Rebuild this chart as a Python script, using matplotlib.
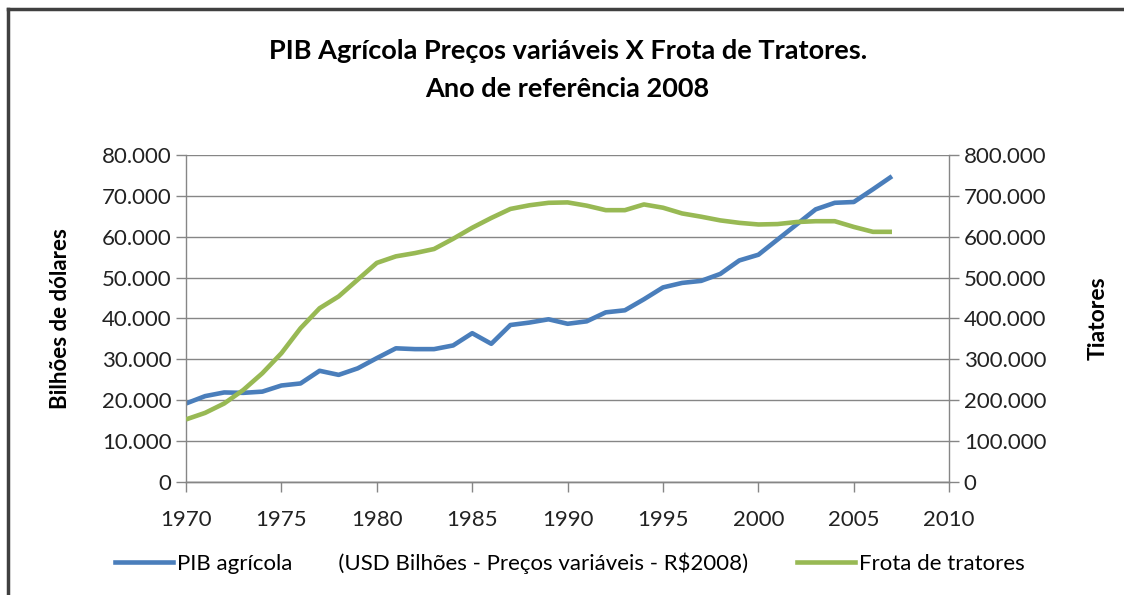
import matplotlib.pyplot as plt
from matplotlib.lines import Line2D

plt.rcParams['font.family'] = ['Lato', 'DejaVu Sans']

anos = list(range(1970, 2008))
pib = [19.2, 21.0, 21.9, 21.8, 22.1, 23.6, 24.1, 27.2, 26.2, 27.8,
       30.3, 32.7, 32.5, 32.5, 33.4, 36.4, 33.8, 38.4, 39.0, 39.8,
       38.7, 39.3, 41.5, 42.0, 44.7, 47.6, 48.7, 49.2, 50.9, 54.2,
       55.6, 59.3, 63.0, 66.7, 68.3, 68.5, 71.6, 74.8]
pib = [v * 1000 for v in pib]
tratores = [153, 169, 192, 225, 266, 315, 376, 425, 454, 495,
            536, 552, 560, 570, 595, 622, 646, 668, 677, 683,
            684, 676, 665, 665, 679, 671, 657, 649, 640, 634,
            630, 631, 636, 638, 638, 624, 612, 612]
tratores = [v * 1000 for v in tratores]

azul = '#4a7ebb'
verde = '#98b954'
cinza = '#868686'


def fmt(v, pos):
    return '0' if v == 0 else f'{v:,.0f}'.replace(',', '.')


fig = plt.figure(figsize=(11.24, 5.95), dpi=100)
ax = fig.add_axes([0.1655, 0.19, 0.679, 0.5495])
ax2 = ax.twinx()

ax.plot(anos, pib, color=azul, linewidth=3.3, solid_capstyle='butt')
ax2.plot(anos, tratores, color=verde, linewidth=3.3, solid_capstyle='butt')

ax.set_xlim(1970, 2010)
ax.set_ylim(0, 80000)
ax2.set_ylim(0, 800000)
ax.set_xticks(range(1970, 2011, 5))
ax.set_yticks(range(0, 80001, 10000))
ax2.set_yticks(range(0, 800001, 100000))
ax.yaxis.set_major_formatter(fmt)
ax2.yaxis.set_major_formatter(fmt)
ax.grid(axis='y', color=cinza, linewidth=1)
ax.set_axisbelow(True)

for a in (ax, ax2):
    a.spines['top'].set_visible(False)
    for s in ('left', 'right', 'bottom'):
        a.spines[s].set_color(cinza)
        a.spines[s].set_linewidth(1)
    a.tick_params(colors=cinza, labelcolor='#222222', labelsize=16,
                  length=7, width=1)
ax.tick_params(axis='x', pad=13)
ax.spines['right'].set_visible(False)
ax2.spines['left'].set_visible(False)

ax.set_ylabel('Bilhões de dólares', fontsize=16, fontweight='bold', labelpad=22)
ax2.set_ylabel('Tiatores', fontsize=16.5, fontweight='bold', labelpad=30)

fig.text(0.505, 0.915, 'PIB Agrícola Preços variáveis X Frota de Tratores.',
         ha='center', va='center', fontsize=19.5, fontweight='bold')
fig.text(0.505, 0.851, 'Ano de referência 2008',
         ha='center', va='center', fontsize=19.5, fontweight='bold')

handles = [Line2D([], [], color=azul, linewidth=3.3),
           Line2D([], [], color=verde, linewidth=3.3)]
labels = ['PIB agrícola        (USD Bilhões - Preços variáveis - R$2008)',
          'Frota de tratores']
fig.legend(handles, labels, loc='center', bbox_to_anchor=(0.507, 0.053),
           ncol=2, frameon=False, fontsize=16, handlelength=2.6,
           handletextpad=0.2, columnspacing=2.2)

# moldura do gráfico
fig.add_artist(Line2D([0.007, 1.0], [0.985, 0.985], color='#404040',
                      linewidth=2.5, transform=fig.transFigure))
fig.add_artist(Line2D([0.007, 0.007], [0.0, 0.985], color='#404040',
                      linewidth=2.5, transform=fig.transFigure))

fig.savefig('out.png', dpi=100)
